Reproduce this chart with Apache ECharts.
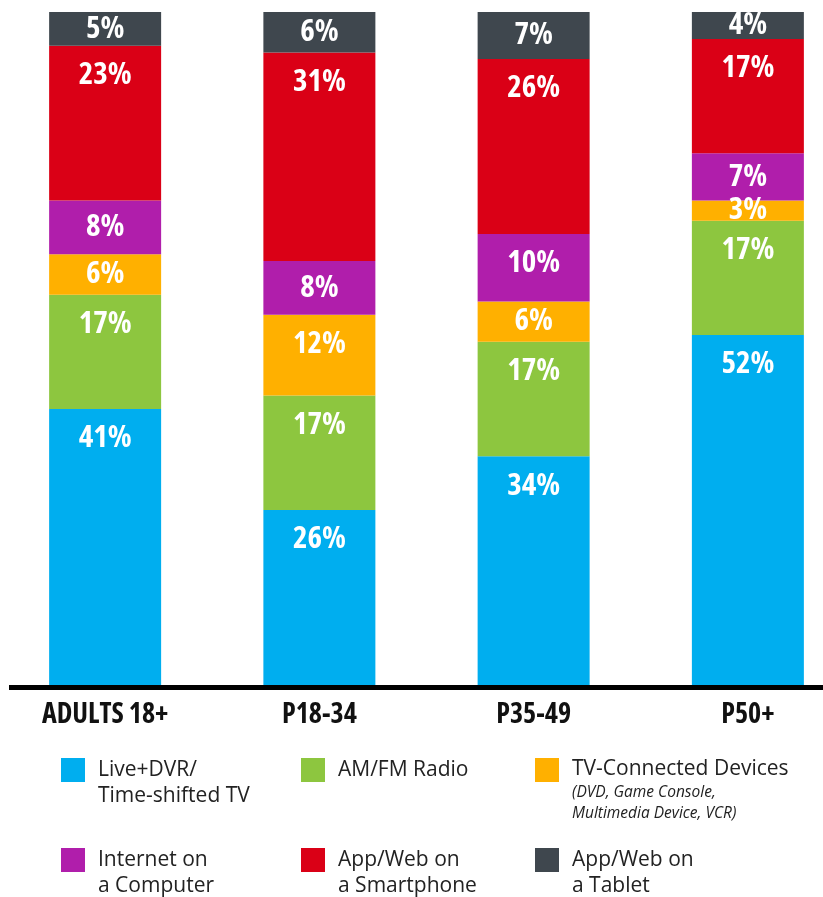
<!DOCTYPE html>
<html>
<head>
<meta charset="utf-8">
<script src="https://cdn.jsdelivr.net/npm/echarts@6/dist/echarts.min.js"></script>
<style>
  html, body { margin: 0; padding: 0; background: #fff; }
  #main { width: 823px; height: 897px; }
</style>
</head>
<body>
<div id="main"></div>
<script>
// data (share of time, %)
const categories = ['ADULTS 18+', 'P18-34', 'P35-49', 'P50+'];
const liveTv = [41, 26, 34, 52];
const radio = [17, 17, 17, 17];
const tvDevices = [6, 12, 6, 3];
const computer = [8, 8, 10, 7];
const smartphone = [23, 31, 26, 17];
const tablet = [5, 6, 7, 4];

const seriesNames = ['Live+DVR/Time-shifted TV', 'AM/FM Radio', 'TV-Connected Devices',
  'Internet on a Computer', 'App/Web on a Smartphone', 'App/Web on a Tablet'];
const seriesData = [liveTv, radio, tvDevices, computer, smartphone, tablet];
const colors = ['#00aeef', '#8dc63f', '#ffb000', '#b01eab', '#da0016', '#3f474e'];

// Open Sans has a width axis, "condensed" gives the narrow headline look
const condensedFamily = '"Open Sans", "Roboto Condensed", sans-serif';
const condensedWeight = 'bold condensed';
const legendFont = '"Open Sans", "Noto Sans", sans-serif';

var myChart = echarts.init(document.getElementById('main'));

// legend: 3 columns x 2 rows, one legend component per entry
const legendCols = [61, 301, 535];
const legendRows = [758, 848];
const legendText = [
  '{a|Live+DVR/}\n{a|Time-shifted TV}',
  '{a|AM/FM Radio}',
  '{a|TV-Connected Devices}\n{b|(DVD, Game Console,}\n{b|Multimedia Device, VCR)}',
  '{a|Internet on}\n{a|a Computer}',
  '{a|App/Web on}\n{a|a Smartphone}',
  '{a|App/Web on}\n{a|a Tablet}'
];
const legendPadTop = [26, 0, 40, 26, 26, 26];

const legends = seriesNames.map(function (name, i) {
  return {
    data: [name],
    left: legendCols[i % 3],
    top: legendRows[Math.floor(i / 3)],
    orient: 'vertical',
    padding: 0,
    icon: 'rect',
    itemWidth: 24,
    itemHeight: 24,
    selectedMode: false,
    formatter: function () { return legendText[i]; },
    textStyle: {
      padding: [legendPadTop[i], 0, 0, 8],
      rich: {
        a: { fontFamily: legendFont, fontSize: 21, lineHeight: 26, color: '#222' },
        b: { fontFamily: legendFont, fontSize: 15.5, fontStyle: 'italic', lineHeight: 21, color: '#222' }
      }
    }
  };
});

const series = seriesNames.map(function (name, i) {
  return {
    name: name,
    type: 'bar',
    stack: 'total',
    barWidth: 112,
    itemStyle: { color: colors[i] },
    data: seriesData[i].map(function (v) {
      // small segments get the label centred, taller ones keep it near the top
      return {
        value: v,
        label: v <= 8 ? { position: 'inside' } : { position: 'insideTop', distance: 14 }
      };
    }),
    label: {
      show: true,
      formatter: '{c}%',
      color: '#fff',
      fontFamily: condensedFamily,
      fontWeight: condensedWeight,
      fontSize: 31
    }
  };
});

var option = {
  animation: false,
  legend: legends,
  grid: {
    left: -2,
    width: 857,
    top: 12,
    bottom: 212,
    containLabel: false,
    outerBoundsMode: 'none'
  },
  xAxis: {
    type: 'category',
    data: categories,
    axisLine: { show: false },
    axisTick: { show: false },
    axisLabel: {
      interval: 0,
      margin: 16,
      color: '#111',
      fontFamily: condensedFamily,
      fontWeight: condensedWeight,
      fontSize: 28
    }
  },
  yAxis: {
    type: 'value',
    min: 0,
    max: 100,
    show: false
  },
  graphic: [
    {
      // baseline under the bars
      type: 'rect',
      shape: { x: 9, y: 685, width: 814, height: 5 },
      style: { fill: '#000' },
      z: 10
    }
  ],
  series: series
};

myChart.setOption(option);
</script>
</body>
</html>
